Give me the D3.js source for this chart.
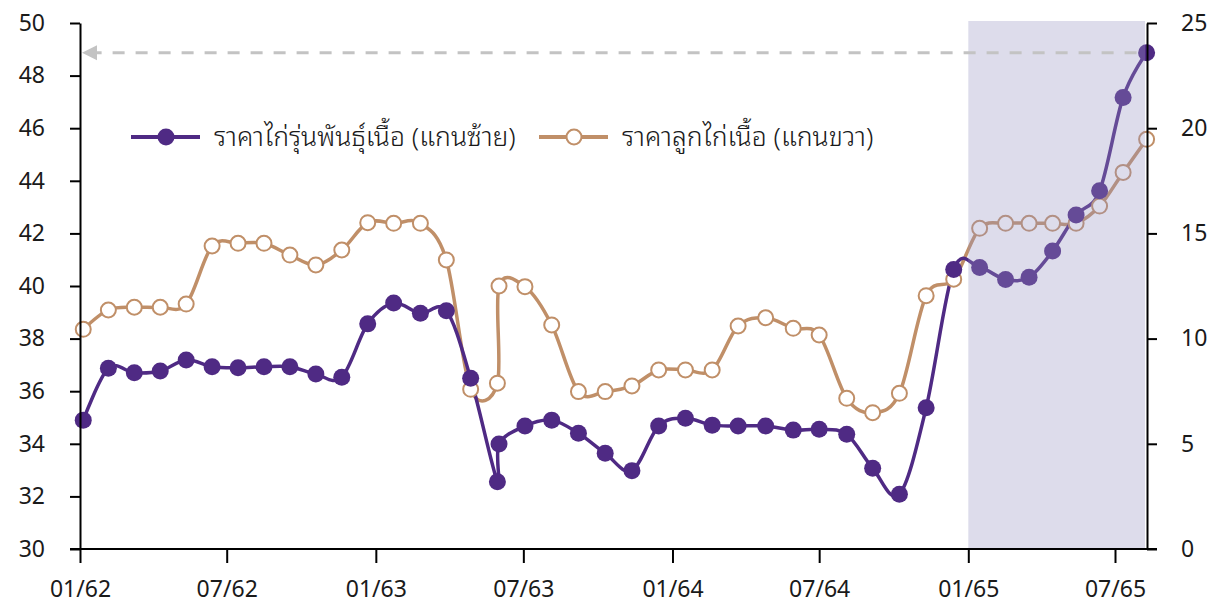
<!DOCTYPE html>
<html lang="th">
<head>
<meta charset="utf-8">
<title>ราคาไก่</title>
<script src="https://cdn.jsdelivr.net/npm/d3@7/dist/d3.min.js"></script>
<style>
body { margin: 0; background: #ffffff; }
text { font-family: "Noto Sans", "Noto Sans Thai Looped", "Loma", "Garuda", "Noto Sans Thai", sans-serif; fill: #1a1a1a; }
</style>
</head>
<body>
<div id="container"></div>
<script>
var dates = ["2019-01-05","2019-02-05","2019-03-09","2019-04-10","2019-05-12","2019-06-13","2019-07-15","2019-08-16","2019-09-17","2019-10-19","2019-11-20","2019-12-22",
  "2020-01-23","2020-02-25","2020-03-28","2020-04-27","2020-05-30","2020-06-01","2020-07-03","2020-08-05","2020-09-07","2020-10-10","2020-11-12","2020-12-15",
  "2021-01-17","2021-02-19","2021-03-23","2021-04-26","2021-05-30","2021-07-01","2021-08-04","2021-09-05","2021-10-08","2021-11-10","2021-12-14",
  "2022-01-15","2022-02-16","2022-03-17","2022-04-15","2022-05-14","2022-06-12","2022-07-11","2022-08-09"];

// ราคาไก่รุ่นพันธุ์เนื้อ (left axis)
var breederPrice = [34.90,36.87,36.70,36.77,37.19,36.93,36.89,36.93,36.93,36.65,36.53,38.56,
  39.35,38.96,39.06,36.49,32.56,33.99,34.68,34.90,34.40,33.64,32.98,34.68,
  34.97,34.71,34.68,34.68,34.52,34.55,34.36,33.07,32.08,35.37,40.63,
  40.70,40.25,40.33,41.33,42.70,43.62,47.17,48.87];

// ราคาลูกไก่เนื้อ (right axis)
var chickPrice = [10.44,11.36,11.49,11.49,11.64,14.40,14.53,14.53,13.97,13.50,14.21,15.51,
  15.48,15.48,13.74,7.59,7.88,12.50,12.47,10.65,7.48,7.48,7.75,8.51,
  8.51,8.51,10.60,10.99,10.49,10.17,7.16,6.48,7.40,12.04,12.82,
  15.24,15.48,15.48,15.48,15.48,16.30,17.90,19.47];

var seriesNames = ["ราคาไก่รุ่นพันธุ์เนื้อ (แกนซ้าย)", "ราคาลูกไก่เนื้อ (แกนขวา)"];
var leftTicks = [30,32,34,36,38,40,42,44,46,48,50];
var rightTicks = [0,5,10,15,20,25];
var xTickDates = ["2019-01-01","2019-07-01","2020-01-01","2020-07-01","2021-01-01","2021-07-01","2022-01-01","2022-07-01"];
var xTickLabels = ["01/62","07/62","01/63","07/63","01/64","07/64","01/65","07/65"];
var shadeFrom = "2022-01-01", shadeTo = "2022-08-07";

var w = 1207, h = 603;
var purple = "#4f2a84", brown = "#c08f68";
var parse = d3.timeParse("%Y-%m-%d");

var svg = d3.select("#container").append("svg")
  .attr("width", w).attr("height", h)
  .style("display", "block");

var x = d3.scaleTime().domain([parse("2019-01-01"), parse("2022-07-01")]).range([80, 1115]);
var yL = d3.scaleLinear().domain([30, 50]).range([549, 23]);
var yR = d3.scaleLinear().domain([0, 25]).range([549, 23]);
var xRight = 1147;

var data = dates.map(function(d, i) {
  return { date: parse(d), left: breederPrice[i], right: chickPrice[i] };
});

var curve = d3.curveCardinal.tension(0);

// series lines
var lineL = d3.line().x(function(d){ return x(d.date); }).y(function(d){ return yL(d.left); }).curve(curve);
var lineR = d3.line().x(function(d){ return x(d.date); }).y(function(d){ return yR(d.right); }).curve(curve);

svg.append("path").datum(data).attr("d", lineR)
  .attr("fill", "none").attr("stroke", brown).attr("stroke-width", 3.5);
svg.append("path").datum(data).attr("d", lineL)
  .attr("fill", "none").attr("stroke", purple).attr("stroke-width", 3.5);

svg.selectAll("circle.chick").data(data).enter().append("circle")
  .attr("class", "chick")
  .attr("cx", function(d){ return x(d.date); })
  .attr("cy", function(d){ return yR(d.right); })
  .attr("r", 7.5)
  .attr("fill", "#ffffff").attr("stroke", brown).attr("stroke-width", 2);

svg.selectAll("circle.breeder").data(data).enter().append("circle")
  .attr("class", "breeder")
  .attr("cx", function(d){ return x(d.date); })
  .attr("cy", function(d){ return yL(d.left); })
  .attr("r", 8.5)
  .attr("fill", purple);

// shaded forecast period, drawn on top
svg.append("rect")
  .attr("x", x(parse(shadeFrom)))
  .attr("y", yL(50) - 2)
  .attr("width", x(parse(shadeTo)) - x(parse(shadeFrom)))
  .attr("height", yL(30) - yL(50) + 2)
  .attr("fill", "rgb(149,145,192)").attr("fill-opacity", 0.32);

// dashed reference arrow at the latest value
var last = data[data.length - 1];
var ay = yL(last.left);
svg.append("line")
  .attr("x1", x(last.date) - 10).attr("x2", x.range()[0] + 15)
  .attr("y1", ay).attr("y2", ay)
  .attr("stroke", "#c3c3c3").attr("stroke-width", 3)
  .attr("stroke-dasharray", "12,11");
svg.append("path")
  .attr("d", d3.line()([[x.range()[0] + 2, ay], [x.range()[0] + 17, ay - 7.5], [x.range()[0] + 17, ay + 7.5]]) + "Z")
  .attr("fill", "#c3c3c3");

// axes
var fs = 23;
var axL = svg.append("g").attr("transform", "translate(" + x.range()[0] + ",0)")
  .call(d3.axisLeft(yL).tickValues(leftTicks).tickSize(10).tickSizeOuter(0).tickPadding(25));
var axR = svg.append("g").attr("transform", "translate(" + xRight + ",0)")
  .call(d3.axisRight(yR).tickValues(rightTicks).tickSize(10).tickSizeOuter(0).tickPadding(24));
var axB = svg.append("g").attr("transform", "translate(0," + yL(30) + ")")
  .call(d3.axisBottom(x).tickValues(xTickDates.map(parse))
    .tickFormat(function(d, i){ return xTickLabels[i]; })
    .tickSize(14).tickSizeOuter(0).tickPadding(18));
axB.select(".domain").remove();
svg.append("line")
  .attr("x1", x.range()[0] - 10).attr("x2", xRight + 10)
  .attr("y1", yL(30)).attr("y2", yL(30))
  .attr("stroke", "#000").attr("stroke-width", 2);

[axL, axR, axB].forEach(function(a) {
  a.selectAll("text").style("font-size", fs + "px").style("font-family", null).attr("fill", "#1a1a1a");
  a.selectAll("line").attr("stroke", "#000").attr("stroke-width", 2);
  a.selectAll(".domain").attr("stroke", "#000").attr("stroke-width", 2);
  a.attr("font-family", null);
});

// legend
var legend = [
  { name: seriesNames[0], x: 131, color: purple, open: false },
  { name: seriesNames[1], x: 539, color: brown, open: true }
];
var ly = 137;
var lg = svg.selectAll("g.legend").data(legend).enter().append("g")
  .attr("class", "legend")
  .attr("transform", function(d){ return "translate(" + d.x + "," + ly + ")"; });
lg.append("line").attr("x1", 0).attr("x2", 69).attr("y1", 0).attr("y2", 0)
  .attr("stroke", function(d){ return d.color; }).attr("stroke-width", 4);
lg.append("circle").attr("cx", 35).attr("cy", 0)
  .attr("r", function(d){ return d.open ? 7.5 : 8.5; })
  .attr("fill", function(d){ return d.open ? "#ffffff" : d.color; })
  .attr("stroke", function(d){ return d.open ? d.color : "none"; })
  .attr("stroke-width", 2);
lg.append("text").attr("x", 83).attr("y", 0).attr("dy", "0.35em")
  .style("font-size", "26.5px").style("font-weight", 300)
  .text(function(d){ return d.name; });
</script>
</body>
</html>
